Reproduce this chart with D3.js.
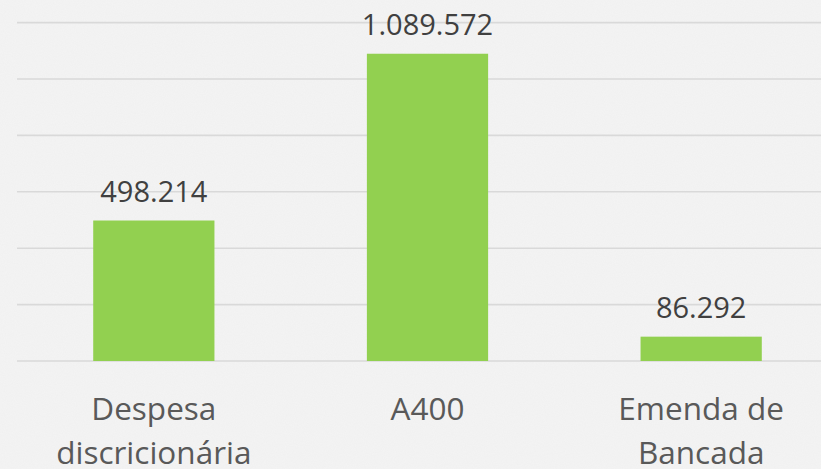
<!DOCTYPE html>
<html>
<head>
<meta charset="utf-8">
<script src="https://cdn.jsdelivr.net/npm/d3@7"></script>
<style>
  body { margin: 0; background: #f3f3f3; }
  svg { display: block; }
</style>
</head>
<body>
<div id="chart"></div>
<script>
const categories = [["Despesa", "discricionária"], ["A400"], ["Emenda de", "Bancada"]];
const values = [498214, 1089572, 86292];
const valueLabels = ["498.214", "1.089.572", "86.292"];
const gridTicks = [0, 200000, 400000, 600000, 800000, 1000000, 1200000];

const width = 821, height = 469;

const svg = d3.select("#chart")
    .append("svg")
    .attr("width", width)
    .attr("height", height);

// textured paper-ish background
const defs = svg.append("defs");
const f = defs.append("filter").attr("id", "grain").attr("x", 0).attr("y", 0).attr("width", "100%").attr("height", "100%");
f.append("feTurbulence").attr("type", "fractalNoise").attr("baseFrequency", 0.9).attr("numOctaves", 2).attr("seed", 3);
f.append("feColorMatrix").attr("type", "matrix")
    .attr("values", "0 0 0 0 0.55  0 0 0 0 0.55  0 0 0 0 0.55  0 0 0 0.09 0");

svg.append("rect").attr("width", width).attr("height", height).attr("fill", "#f4f4f4");
svg.append("rect").attr("width", width).attr("height", height).attr("filter", "url(#grain)");

const x = d3.scaleBand()
    .domain(d3.range(categories.length))
    .range([17, 838])
    .paddingInner(0.557)
    .paddingOuter(0.2785);

const y = d3.scaleLinear()
    .domain([0, 1200000])
    .range([361, 22.6]);

svg.append("g")
    .selectAll("line")
    .data(gridTicks)
    .enter().append("line")
    .attr("x1", 17)
    .attr("x2", width)
    .attr("y1", d => y(d))
    .attr("y2", d => y(d))
    .attr("stroke", "#d9d9d9")
    .attr("stroke-width", 1.6);

svg.append("g")
    .selectAll("rect")
    .data(values)
    .enter().append("rect")
    .attr("x", (d, i) => x(i))
    .attr("y", d => y(d))
    .attr("width", x.bandwidth())
    .attr("height", d => y(0) - y(d))
    .attr("fill", "#92d050");

svg.append("g")
    .selectAll("text")
    .data(values)
    .enter().append("text")
    .attr("x", (d, i) => x(i) + x.bandwidth() / 2)
    .attr("y", d => y(d) - 19)
    .attr("text-anchor", "middle")
    .attr("font-family", "Open Sans")
    .attr("font-size", 29)
    .attr("fill", "#404040")
    .text((d, i) => valueLabels[i]);

const cat = svg.append("g")
    .selectAll("text")
    .data(categories)
    .enter().append("text")
    .attr("x", (d, i) => x(i) + x.bandwidth() / 2)
    .attr("y", 420)
    .attr("text-anchor", "middle")
    .attr("font-family", "Open Sans")
    .attr("font-size", 31.5)
    .attr("fill", "#595959");

cat.selectAll("tspan")
    .data((d, i) => d.map(t => ({t, i})))
    .enter().append("tspan")
    .attr("x", d => x(d.i) + x.bandwidth() / 2)
    .attr("dy", (d, j) => j === 0 ? 0 : 44)
    .text(d => d.t);
</script>
</body>
</html>
